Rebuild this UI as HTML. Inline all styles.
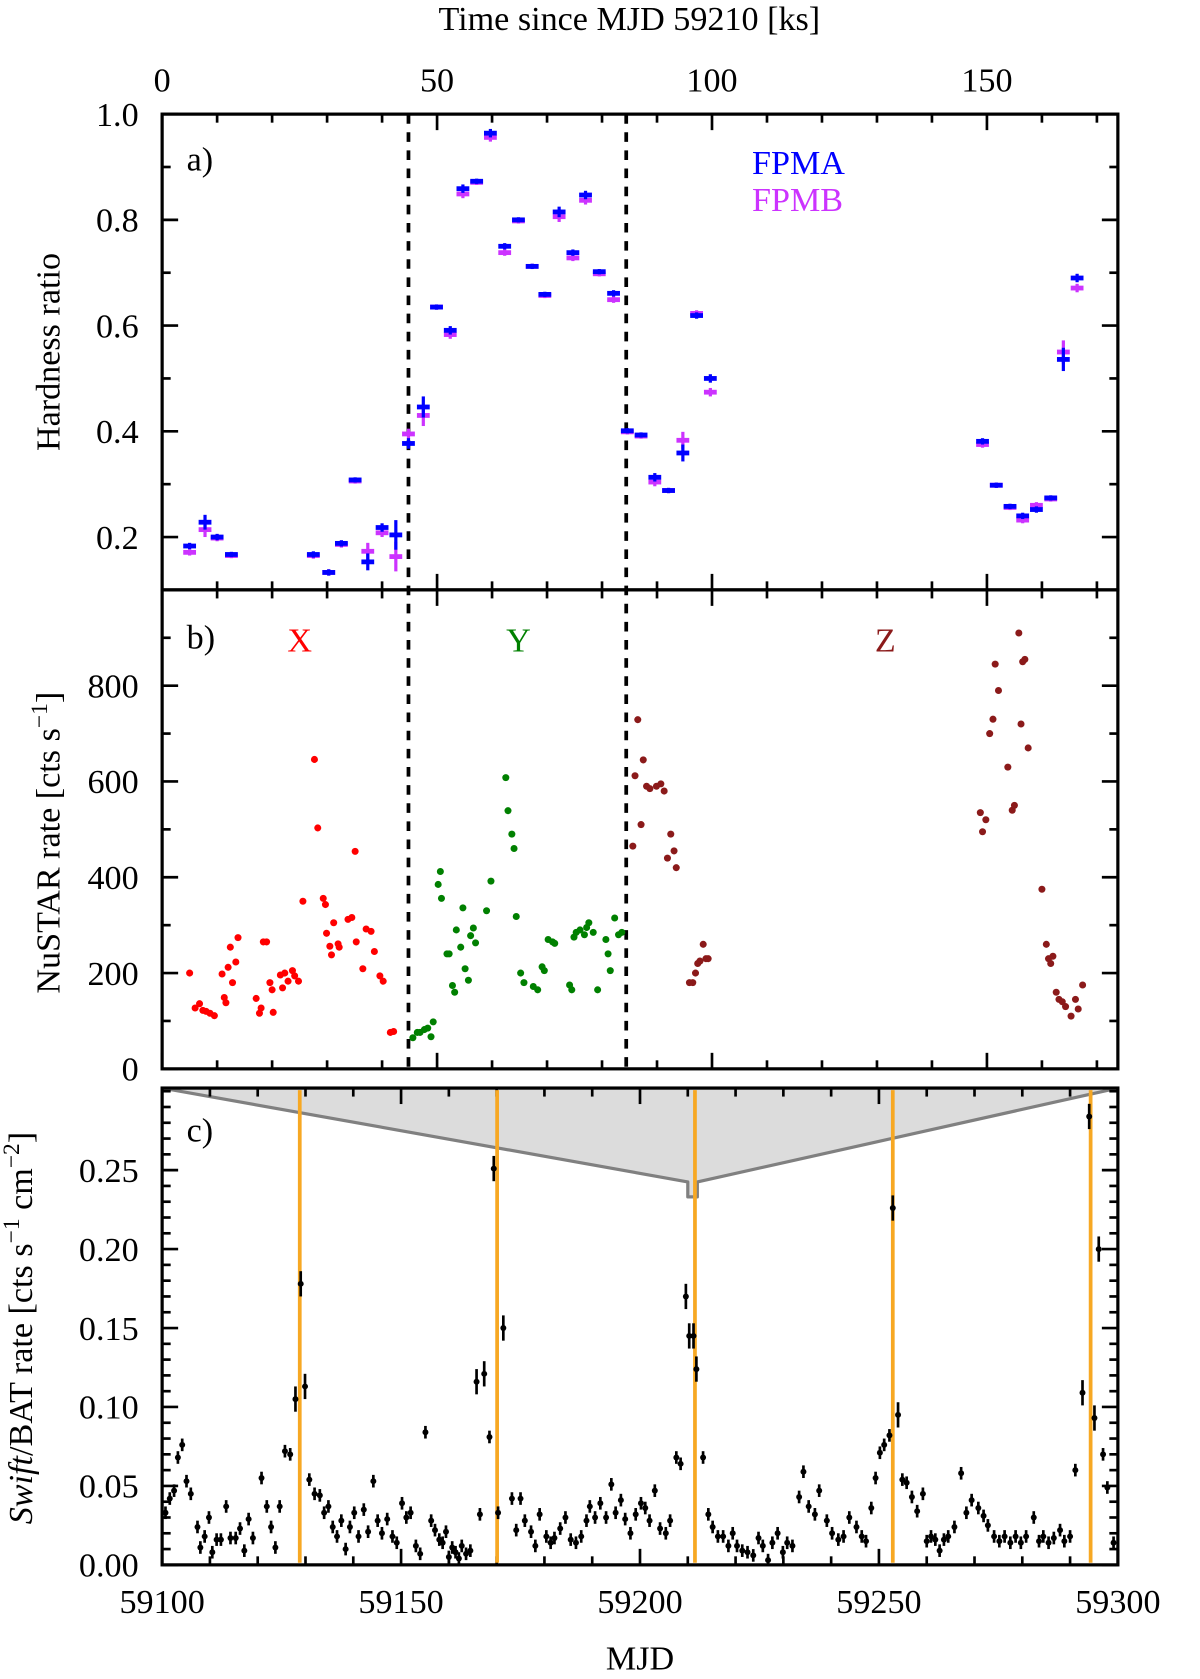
<!DOCTYPE html>
<html><head><meta charset="utf-8"><style>
html,body{margin:0;padding:0;background:#fff;}
svg{display:block;font-family:"Liberation Serif",serif;}
</style></head><body>
<svg id="fig" width="1200" height="1679" viewBox="0 0 1125 1574" preserveAspectRatio="none" xmlns="http://www.w3.org/2000/svg"></svg>
<script>
// ---- Panel a: hardness ratio ----
const hrTime = [5.0,7.8,10.0,12.6,27.5,30.3,32.6,35.1,37.4,40.0,42.5,44.8,47.5,49.9,52.4,54.7,57.2,59.7,62.3,64.8,67.3,69.6,72.2,74.7,77.0,79.5,82.1,84.6,87.1,89.6,92.1,94.7,97.2,99.7,149.2,151.7,154.2,156.5,159.0,161.6,163.9,166.4];
const hrFPMA = [0.183,0.228,0.200,0.167,0.167,0.133,0.188,0.308,0.153,0.218,0.204,0.377,0.446,0.635,0.591,0.859,0.873,0.964,0.750,0.800,0.712,0.659,0.815,0.738,0.847,0.702,0.661,0.401,0.393,0.313,0.288,0.359,0.619,0.500,0.381,0.298,0.258,0.240,0.252,0.274,0.536,0.690];
const hrFPMB = [0.171,0.214,0.198,0.165,0.165,0.133,0.186,0.306,0.173,0.208,0.163,0.395,0.430,0.635,0.583,0.849,0.871,0.956,0.738,0.798,0.712,0.657,0.806,0.728,0.837,0.698,0.649,0.399,0.391,0.304,0.288,0.383,0.623,0.474,0.375,0.298,0.256,0.232,0.260,0.272,0.550,0.671];
const hrErr = [0.006,0.014,0.006,0.005,0.006,0.006,0.006,0.005,0.016,0.008,0.028,0.010,0.020,0.005,0.008,0.008,0.005,0.008,0.006,0.005,0.005,0.005,0.010,0.006,0.008,0.005,0.006,0.005,0.005,0.008,0.005,0.016,0.006,0.008,0.006,0.005,0.005,0.006,0.006,0.005,0.022,0.008];
const hrTicks = [0.2,0.4,0.6,0.8,1.0];
// ---- Panel b: NuSTAR rate ----
const xTime = [5.0,6.0,6.8,7.4,8.0,8.7,9.5,10.9,11.3,11.6,12.0,12.4,12.8,13.4,13.8,17.1,17.7,18.0,18.4,19.0,19.6,20.0,20.2,21.5,21.9,22.3,22.9,23.7,24.1,24.8,25.6,27.7,28.3,29.3,29.7,29.9,30.5,30.8,31.2,32.0,32.2,33.8,34.5,35.1,35.3,36.5,37.1,38.0,38.6,39.6,40.2,41.5,42.1];
const xRate = [200,127,136,122,120,116,111,198,149,138,212,254,180,223,274,147,116,127,265,265,180,165,118,196,169,200,183,205,194,183,350,646,503,356,343,283,256,238,305,261,254,312,316,454,265,209,292,287,245,194,183,76,78];
const yTime = [45.6,46.4,46.9,47.7,48.3,48.9,49.3,50.2,50.6,50.8,51.8,52.2,52.8,53.2,53.5,54.3,54.7,55.1,55.7,56.1,56.6,57.0,59.0,59.8,62.5,62.9,63.6,64.0,64.4,65.2,65.8,67.5,68.3,69.1,69.5,70.2,71.0,71.4,74.1,74.5,74.9,75.3,76.0,76.8,77.2,77.6,78.4,79.2,80.7,81.1,81.5,82.3,83.0,83.6];
const yRate = [65,76,76,82,85,67,98,385,412,356,240,240,174,160,290,254,336,209,185,278,294,263,330,392,608,539,490,460,318,200,180,172,165,213,205,270,265,262,175,165,275,285,290,280,295,305,285,165,270,240,205,315,280,285];
const zTime = [85.6,86.0,86.5,87.1,87.5,88.1,88.7,89.9,90.7,91.3,91.9,92.5,93.1,93.5,95.9,96.5,97.0,97.4,97.8,98.4,98.9,99.3,148.8,149.2,149.8,150.5,151.1,151.5,152.1,153.8,154.6,155.0,155.8,156.2,156.5,156.9,157.5,160.0,160.8,161.2,161.6,162.0,162.6,163.1,163.7,164.3,165.3,166.1,166.6,167.4];
const zRate = [465,612,729,510,645,590,585,590,595,580,440,490,455,420,180,180,200,220,225,260,230,230,535,495,520,700,730,845,790,630,540,550,910,720,850,855,670,375,260,230,220,235,160,145,140,130,110,145,125,175];
const rateTicks = [0,200,400,600,800];
const ksTicks = [0,50,100,150];
const phaseBounds = [44.8,84.4];
// ---- Panel c: Swift/BAT ----
const batDay = [0.7,1.6,2.5,3.3,4.2,5.1,6.0,7.4,8.0,8.9,9.8,10.5,11.4,12.3,13.4,14.3,15.4,16.3,17.2,18.1,19.0,20.8,21.9,22.8,23.7,24.6,25.7,26.8,27.9,29.0,29.9,30.8,31.9,33.0,33.9,34.8,35.7,36.6,37.5,38.4,39.3,40.2,41.1,42.2,43.1,44.2,45.1,46.0,47.1,48.2,49.1,50.2,51.1,52.0,53.1,54.0,55.1,56.3,57.1,58.0,58.7,59.4,60.0,60.7,61.4,62.1,62.7,63.6,64.5,65.8,66.5,67.4,68.5,69.4,70.3,71.4,73.2,74.1,75.0,75.9,77.2,78.1,79.0,80.4,81.3,82.1,83.3,84.4,85.5,86.6,87.7,88.8,89.5,90.6,91.7,92.9,94.0,94.9,96.0,96.9,98.0,99.1,100.2,101.1,102.0,103.1,104.2,105.4,106.3,107.6,108.5,109.6,110.3,111.2,111.8,113.2,114.3,115.2,116.3,117.4,118.5,119.4,120.3,121.4,122.5,123.7,124.8,125.7,126.8,127.7,128.8,129.9,130.8,131.9,133.3,134.2,135.3,136.6,137.5,139.1,140.2,141.5,142.6,143.8,145.3,146.4,147.3,148.4,149.3,150.2,151.1,152.2,152.9,154.0,154.9,155.8,156.9,158.0,159.2,160.0,160.9,161.8,162.7,163.6,164.5,165.8,167.2,168.3,169.4,170.8,171.9,172.8,174.1,175.2,176.3,177.5,178.6,179.7,180.8,182.4,183.5,184.4,185.5,186.6,187.9,188.8,190.0,191.1,192.6,194.0,195.1,196.0,196.9,197.8,199.1];
const batRate = [0.033,0.042,0.047,0.068,0.076,0.053,0.045,0.024,0.011,0.018,0.030,0.008,0.016,0.016,0.037,0.017,0.017,0.023,0.009,0.029,0.017,0.055,0.037,0.024,0.011,0.037,0.072,0.070,0.105,0.178,0.113,0.054,0.045,0.044,0.033,0.037,0.024,0.018,0.028,0.010,0.024,0.033,0.018,0.035,0.021,0.053,0.028,0.020,0.029,0.018,0.014,0.039,0.030,0.033,0.012,0.007,0.084,0.028,0.022,0.016,0.014,0.021,0.005,0.011,0.008,0.004,0.012,0.007,0.009,0.116,0.032,0.121,0.081,0.251,0.033,0.150,0.042,0.022,0.042,0.028,0.021,0.012,0.032,0.018,0.014,0.017,0.023,0.030,0.016,0.014,0.018,0.028,0.037,0.030,0.039,0.030,0.051,0.033,0.041,0.029,0.020,0.032,0.039,0.036,0.028,0.047,0.023,0.020,0.028,0.068,0.064,0.170,0.145,0.145,0.124,0.068,0.032,0.024,0.018,0.018,0.012,0.020,0.012,0.009,0.008,0.006,0.017,0.012,0.003,0.014,0.020,0.008,0.014,0.012,0.043,0.059,0.037,0.032,0.047,0.028,0.020,0.016,0.018,0.030,0.024,0.018,0.015,0.036,0.055,0.071,0.076,0.082,0.226,0.095,0.054,0.052,0.043,0.034,0.045,0.015,0.018,0.016,0.009,0.016,0.018,0.024,0.058,0.033,0.041,0.036,0.031,0.025,0.018,0.015,0.018,0.014,0.018,0.014,0.018,0.030,0.015,0.018,0.014,0.017,0.022,0.015,0.018,0.060,0.109,0.284,0.093,0.200,0.070,0.049,0.014];
const batErrDefault = 0.004;
const orbitMJD = [59128.8,59170.1,59211.5,59252.9,59294.3];
const nustarWindow = [59210,59212];
const mjdTicks = [59100,59150,59200,59250,59300];
const batTicks = [0.00,0.05,0.10,0.15,0.20,0.25];

const NS='http://www.w3.org/2000/svg';
const svg=document.getElementById('fig');
function mk(tag,attrs,parent){const e=document.createElementNS(NS,tag);for(const k in attrs)e.setAttribute(k,attrs[k]);(parent||svg).appendChild(e);return e;}
const L=152,R=1048;
const A={top:107,bot:553},B={top:553,bot:1002},C={top:1020,bot:1467};
const ksMax=(R-L)/5.155;
const xKs=v=>L+v/ksMax*(R-L);
const yHR=v=>A.bot-(v-0.1)/0.9*(A.bot-A.top);
const yRt=v=>B.bot-v/1000*(B.bot-B.top);
const xMJD=v=>L+(v-59100)/200*(R-L);
const yBAT=v=>C.bot-v/0.302*(C.bot-C.top);
const TS='stroke:#000;stroke-width:2.5';

function ticksX(fn,maj,minStep,lo,hi,y1,y2){ // ticks on top(y1, pointing down) and bottom(y2, pointing up)
  for(let v=lo;v<=hi+1e-9;v+=minStep){const x=fn(v);if(x<L-0.5||x>R+0.5)continue;
    const isMaj=maj.some(m=>Math.abs(m-v)<1e-6);const len=isMaj?15:8;
    const t1=mk('line',{x1:x,x2:x,y1:y1,y2:y1+len,style:TS});
    
    const t2=mk('line',{x1:x,x2:x,y1:y2,y2:y2-len,style:TS});
    }
}
function ticksY(fn,maj,minStep,lo,hi,top,bot){
  for(let v=lo;v<=hi+1e-9;v+=minStep){const y=fn(v);if(y<top-0.5||y>bot+0.5)continue;
    const isMaj=maj.some(m=>Math.abs(m-v)<1e-6);const len=isMaj?15:8;
    const t1=mk('line',{x1:L,x2:L+len,y1:y,y2:y,style:TS});
    
    const t2=mk('line',{x1:R,x2:R-len,y1:y,y2:y,style:TS});
    }
}
function txt(s,x,y,opt,name){const t=mk('text',Object.assign({x:x,y:y,'font-size':32,'text-anchor':'middle'},opt||{}));t.textContent=s;
  return t;}

// Panel C background polygon first
const poly=mk('polygon',{points:[[L,C.top],[xMJD(nustarWindow[0]),1108],[xMJD(nustarWindow[0]),1122],[xMJD(nustarWindow[1]),1122],[xMJD(nustarWindow[1]),1108],[R,C.top]].map(p=>p.join(',')).join(' '),fill:'#dcdcdc',stroke:'#808080','stroke-width':3,'stroke-linejoin':'round'});


// Ticks
ticksX(xKs,ksTicks,10,0,170,A.top,A.bot);
ticksX(xKs,ksTicks,10,0,170,B.top,B.bot);
ticksY(yHR,hrTicks,0.1,0.1,1.0,A.top,A.bot);
ticksY(yRt,rateTicks,100,0,1000,B.top,B.bot);
ticksX(xMJD,mjdTicks,10,59100,59300,C.top,C.bot);
ticksY(yBAT,batTicks,0.01,0,0.30,C.top,C.bot);

// Frames
[['panel-a-frame',A],['panel-b-frame',B],['panel-c-frame',C]].forEach(([n,P])=>{const r=mk('rect',{x:L,y:P.top,width:R-L,height:P.bot-P.top,fill:'none',stroke:'#000','stroke-width':3});
  });

// Tick labels
ksTicks.forEach(v=>txt(String(v),xKs(v),86,{},'top-x-tick-label'));
hrTicks.forEach(v=>txt(v.toFixed(1),130,yHR(v)+11,{'text-anchor':'end'},'hr-tick-label'));
rateTicks.forEach(v=>txt(String(v),130,yRt(v)+11,{'text-anchor':'end'},'rate-tick-label'));
batTicks.forEach(v=>txt(v.toFixed(2),130,yBAT(v)+11,{'text-anchor':'end'},'bat-tick-label'));
mjdTicks.forEach(v=>txt(String(v),xMJD(v),1512,{},'mjd-tick-label'));
txt('Time since MJD 59210 [ks]',590,28,{},'top-x-axis-title');
txt('MJD',600,1565,{},'x-axis-title');
txt('Hardness ratio',56,330,{transform:'rotate(-90 56 330)'},'hr-axis-title');
const yb=txt('',56,790,{transform:'rotate(-90 56 790)'},'rate-axis-title');
yb.innerHTML='NuSTAR rate [cts s<tspan dy="-12" font-size="22">−1</tspan><tspan dy="12">]</tspan>';
const yc=txt('',30,1245,{transform:'rotate(-90 30 1245)'},'bat-axis-title');
yc.innerHTML='<tspan font-style="italic">Swift</tspan>/BAT rate [cts s<tspan dy="-12" font-size="22">−1</tspan><tspan dy="12"> cm</tspan><tspan dy="-12" font-size="22">−2</tspan><tspan dy="12">]</tspan>';
txt('a)',175,160,{'text-anchor':'start'},'panel-a-label');
txt('b)',175,608,{'text-anchor':'start'},'panel-b-label');
txt('c)',175,1070,{'text-anchor':'start'},'panel-c-label');
txt('FPMA',705,163,{'text-anchor':'start',fill:'#0000ff'},'legend-fpma');
txt('FPMB',705,198,{'text-anchor':'start',fill:'#cc33ff'},'legend-fpmb');
txt('X',281,611,{fill:'#ff0000'},'phase-x-label');
txt('Y',486,611,{fill:'#008000'},'phase-y-label');
txt('Z',830,611,{fill:'#8b1a1a'},'phase-z-label');

// Dashed phase boundaries
phaseBounds.forEach(t=>{const l=mk('line',{x1:xKs(t),x2:xKs(t),y1:A.top,y2:B.bot,stroke:'#000','stroke-width':3.5,'stroke-dasharray':'9 8'});
  });

// Panel a markers
function hrMark(t,v,e,col,name){const g=mk('g',{});
  
  const x=xKs(t),y=yHR(v);
  mk('line',{x1:x-6,x2:x+6,y1:y,y2:y,stroke:col,'stroke-width':4.5},g);
  mk('line',{x1:x,x2:x,y1:yHR(v+e),y2:yHR(v-e),stroke:col,'stroke-width':3},g);}
hrTime.forEach((t,i)=>hrMark(t,hrFPMB[i],hrErr[i],'#cc33ff','hr-fpmb-point'));
hrTime.forEach((t,i)=>hrMark(t,hrFPMA[i],hrErr[i],'#0000ff','hr-fpma-point'));

// Panel b dots
function dots(ts,rs,col,name){ts.forEach((t,i)=>{const c=mk('circle',{cx:xKs(t),cy:yRt(rs[i]),r:3.3,fill:col});
  });}
dots(xTime,xRate,'#ff0000','rate-point-x');
dots(yTime,yRate,'#008000','rate-point-y');
dots(zTime,zRate,'#8b1a1a','rate-point-z');

// Orange lines
orbitMJD.forEach(m=>{const l=mk('line',{x1:xMJD(m),x2:xMJD(m),y1:C.top+2,y2:C.bot-2,stroke:'#f7a823','stroke-width':3.5});
  });

// BAT points
batDay.forEach((d,i)=>{const g=mk('g',{});
  
  const x=xMJD(59100+d),v=batRate[i];const e=v>0.09?0.008:batErrDefault;
  mk('line',{x1:x,x2:x,y1:yBAT(v+e),y2:yBAT(Math.max(0,v-e)),stroke:'#000','stroke-width':2.5},g);
  mk('circle',{cx:x,cy:yBAT(v),r:2.8,fill:'#000'},g);});
</script>
</body></html>
